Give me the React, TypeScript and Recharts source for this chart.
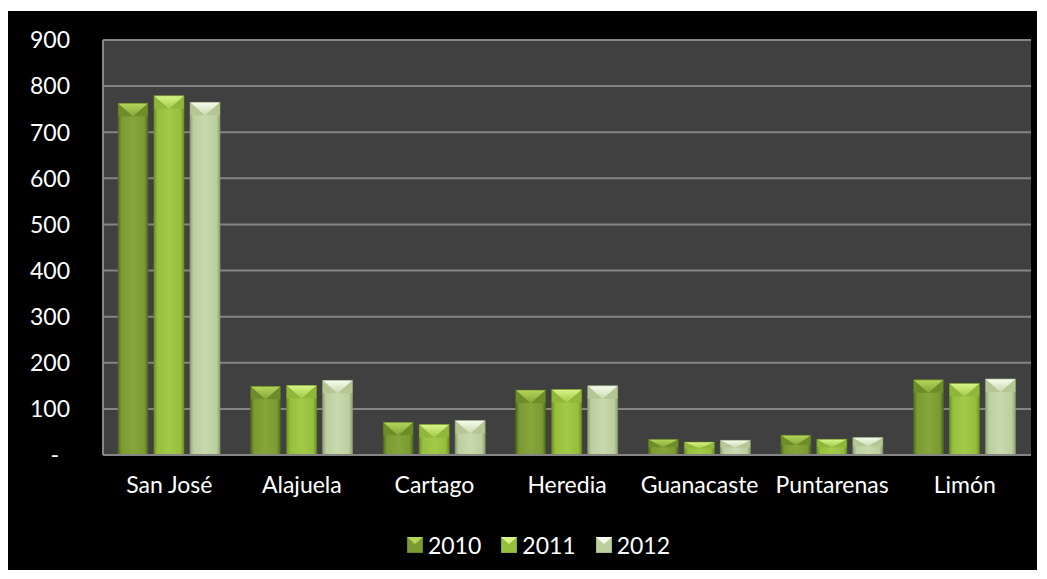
import React from 'react';
import { BarChart, Bar, XAxis, YAxis, CartesianGrid, Legend } from 'recharts';

const categories = ['San José', 'Alajuela', 'Cartago', 'Heredia', 'Guanacaste', 'Puntarenas', 'Limón'];
const values2010 = [763, 149, 71, 141, 34, 43, 163];
const values2011 = [779, 151, 66, 142, 28, 34, 155];
const values2012 = [765, 162, 75, 150, 32, 38, 165];
const yTicks = [0, 100, 200, 300, 400, 500, 600, 700, 800, 900];
const seriesNames = ['2010', '2011', '2012'];

const data = categories.map((c, i) => ({
  name: c,
  '2010': values2010[i],
  '2011': values2011[i],
  '2012': values2012[i],
}));

type Pal = { edge: string; body: string; mid: string; tip: string; side: string };
const palettes: Record<string, Pal> = {
  '2010': { edge: '#4f6a1c', body: '#7b9b32', mid: '#86a63a', tip: '#b4d65a', side: '#6e8c2a' },
  '2011': { edge: '#6f9220', body: '#97bf3e', mid: '#a2c948', tip: '#d8f58a', side: '#8fb83a' },
  '2012': { edge: '#8fa173', body: '#bccf9f', mid: '#c8d9ad', tip: '#f7fcee', side: '#b3c693' },
};

const FONT = 'Lato, "Open Sans", sans-serif';

const makeShape = (key: string) => (props: any) => {
  const { x, y, width: w, height: h } = props;
  if (!h || h <= 0) return <g />;
  const p = palettes[key];
  const b = Math.min(13, h / 2);
  return (
    <g>
      <rect x={x} y={y} width={w} height={h} fill={`url(#body-${key})`} />
      <polygon points={`${x},${y} ${x + w / 2},${y + b} ${x},${y + b}`} fill={p.side} />
      <polygon points={`${x + w},${y} ${x + w / 2},${y + b} ${x + w},${y + b}`} fill={p.side} />
      <polygon points={`${x},${y} ${x + w},${y} ${x + w / 2},${y + b}`} fill={`url(#tip-${key})`} />
      <rect x={x} y={y} width={w} height={h} fill="none" stroke={p.edge} strokeWidth={0.8} strokeOpacity={0.7} />
    </g>
  );
};

const YTick = (props: any) => {
  const { x, y, payload } = props;
  const isZero = payload.value === 0;
  return (
    <text
      x={isZero ? x - 11 : x}
      y={y}
      dy="0.36em"
      textAnchor="end"
      fill="#ffffff"
      fontFamily={FONT}
      fontSize={23}
    >
      {isZero ? '-' : payload.value}
    </text>
  );
};

const LegendContent = () => (
  <div
    style={{
      height: 40,
      display: 'flex',
      justifyContent: 'center',
      alignItems: 'center',
      fontFamily: FONT,
      fontSize: 23,
      color: '#ffffff',
      paddingLeft: 58,
    }}
  >
    {seriesNames.map((s) => {
      const p = palettes[s];
      return (
        <div key={s} style={{ display: 'flex', alignItems: 'center', marginRight: 20 }}>
          <svg width={16} height={16} style={{ marginRight: 5 }}>
            <rect x={0} y={0} width={16} height={16} fill={p.body} stroke={p.edge} strokeWidth={0.8} />
            <polygon points="0,0 16,0 8,7" fill={p.tip} />
          </svg>
          <span>{s}</span>
        </div>
      );
    })}
  </div>
);

export default function App() {
  return (
    <div style={{ width: 1029, height: 559, background: '#000000', marginTop: 3 }}>
      <BarChart
        width={1029}
        height={559}
        data={data}
        margin={{ top: 29, right: 6, left: 0, bottom: 5 }}
        barSize={30}
        barGap={6}
      >
        <defs>
          {seriesNames.map((s) => {
            const p = palettes[s];
            return (
              <React.Fragment key={s}>
                <linearGradient id={`body-${s}`} x1="0" y1="0" x2="1" y2="0">
                  <stop offset="0%" stopColor={p.edge} />
                  <stop offset="12%" stopColor={p.body} />
                  <stop offset="50%" stopColor={p.mid} />
                  <stop offset="88%" stopColor={p.body} />
                  <stop offset="100%" stopColor={p.edge} />
                </linearGradient>
                <linearGradient id={`tip-${s}`} x1="0" y1="0" x2="0" y2="1">
                  <stop offset="0%" stopColor={p.tip} />
                  <stop offset="100%" stopColor={p.mid} />
                </linearGradient>
              </React.Fragment>
            );
          })}
        </defs>
        <CartesianGrid
          vertical={false}
          stroke="#858585"
          strokeWidth={2}
          fill="#404040"
        />
        <XAxis
          dataKey="name"
          height={70}
          tickLine={false}
          tickSize={0}
          tickMargin={22}
          axisLine={{ stroke: '#858585', strokeWidth: 2 }}
          tick={{ fill: '#ffffff', fontFamily: FONT, fontSize: 23 }}
          interval={0}
        />
        <YAxis
          width={95}
          domain={[0, 900]}
          ticks={yTicks}
          tickLine={false}
          tickSize={0}
          tickMargin={33}
          axisLine={{ stroke: '#858585', strokeWidth: 2 }}
          tick={<YTick />}
        />
        <Legend verticalAlign="bottom" content={<LegendContent />} />
        {seriesNames.map((s) => (
          <Bar key={s} dataKey={s} fill={palettes[s].body} shape={makeShape(s)} isAnimationActive={false} />
        ))}
      </BarChart>
    </div>
  );
}
